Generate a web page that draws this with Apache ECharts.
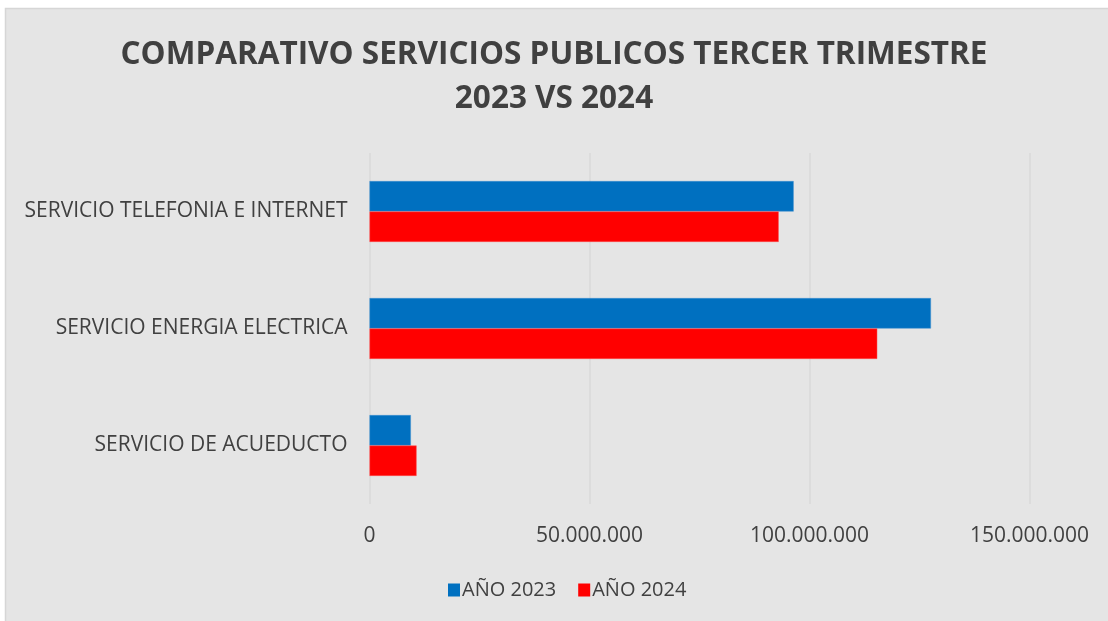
<!DOCTYPE html>
<html>
<head>
<meta charset="utf-8">
<style>
html,body{margin:0;padding:0;background:#ffffff;}
#chart{width:1108px;height:621px;}
</style>
<script src="https://cdn.jsdelivr.net/npm/echarts@6/dist/echarts.min.js"></script>
</head>
<body>
<div id="chart"></div>
<script>
var categories = ['SERVICIO DE ACUEDUCTO', 'SERVICIO ENERGIA ELECTRICA', 'SERVICIO TELEFONIA E INTERNET'];
var values2023 = [9400000, 127600000, 96400000];
var values2024 = [10700000, 115400000, 93000000];
var seriesNames = ['AÑO 2023', 'AÑO 2024'];
var titleText = 'COMPARATIVO SERVICIOS PUBLICOS TERCER TRIMESTRE\n2023 VS 2024';

var FONT = '"Open Sans", "Noto Sans", sans-serif';

function fmt(v){
  return String(Math.round(v)).replace(/\B(?=(\d{3})+(?!\d))/g, '.');
}

var chart = echarts.init(document.getElementById('chart'), null, {renderer:'canvas'});
chart.setOption({
  backgroundColor: '#ffffff',
  animation: false,
  graphic: [{
    type: 'rect',
    z: -10,
    silent: true,
    shape: {x: 5.5, y: 8.5, width: 1110, height: 620},
    style: {fill: '#e5e5e5', stroke: '#d6d6d6', lineWidth: 1.5}
  }],
  title: {
    text: titleText,
    left: 'center',
    top: 28,
    textStyle: {
      fontFamily: FONT,
      fontWeight: 'bold',
      fontSize: 31.5,
      color: '#404040',
      lineHeight: 44
    }
  },
  legend: {
    data: seriesNames,
    left: 443,
    top: 575,
    itemWidth: 12,
    itemHeight: 13,
    itemGap: 22,
    icon: 'rect',
    itemStyle: {borderWidth: 0},
    textStyle: {fontFamily: FONT, fontSize: 20, color: '#404040', padding: [0,0,0,-3]}
  },
  grid: {
    left: 369.5,
    right: 78.5,
    top: 153,
    bottom: 117,
    containLabel: false
  },
  xAxis: {
    type: 'value',
    min: 0,
    max: 150000000,
    interval: 50000000,
    axisLine: {show: false},
    axisTick: {show: false},
    splitLine: {lineStyle: {color: '#d9d9d9', width: 1.5}},
    axisLabel: {
      fontFamily: FONT,
      fontSize: 21,
      color: '#404040',
      margin: 22,
      formatter: function(v){ return fmt(v); }
    }
  },
  yAxis: {
    type: 'category',
    data: categories,
    axisLine: {show: false},
    axisTick: {show: false},
    axisLabel: {
      fontFamily: FONT,
      fontSize: 21,
      color: '#404040',
      margin: 22
    }
  },
  series: [
    {
      name: seriesNames[0],
      type: 'bar',
      data: values2023,
      barGap: '0%',
      barCategoryGap: '48%',
      itemStyle: {color: '#0070c0', borderColor: '#3f8fd0', borderWidth: 0.5}
    },
    {
      name: seriesNames[1],
      type: 'bar',
      data: values2024,
      barGap: '0%',
      barCategoryGap: '48%',
      itemStyle: {color: '#ff0000', borderColor: '#ff5050', borderWidth: 0.5}
    }
  ]
});
</script>
</body>
</html>
